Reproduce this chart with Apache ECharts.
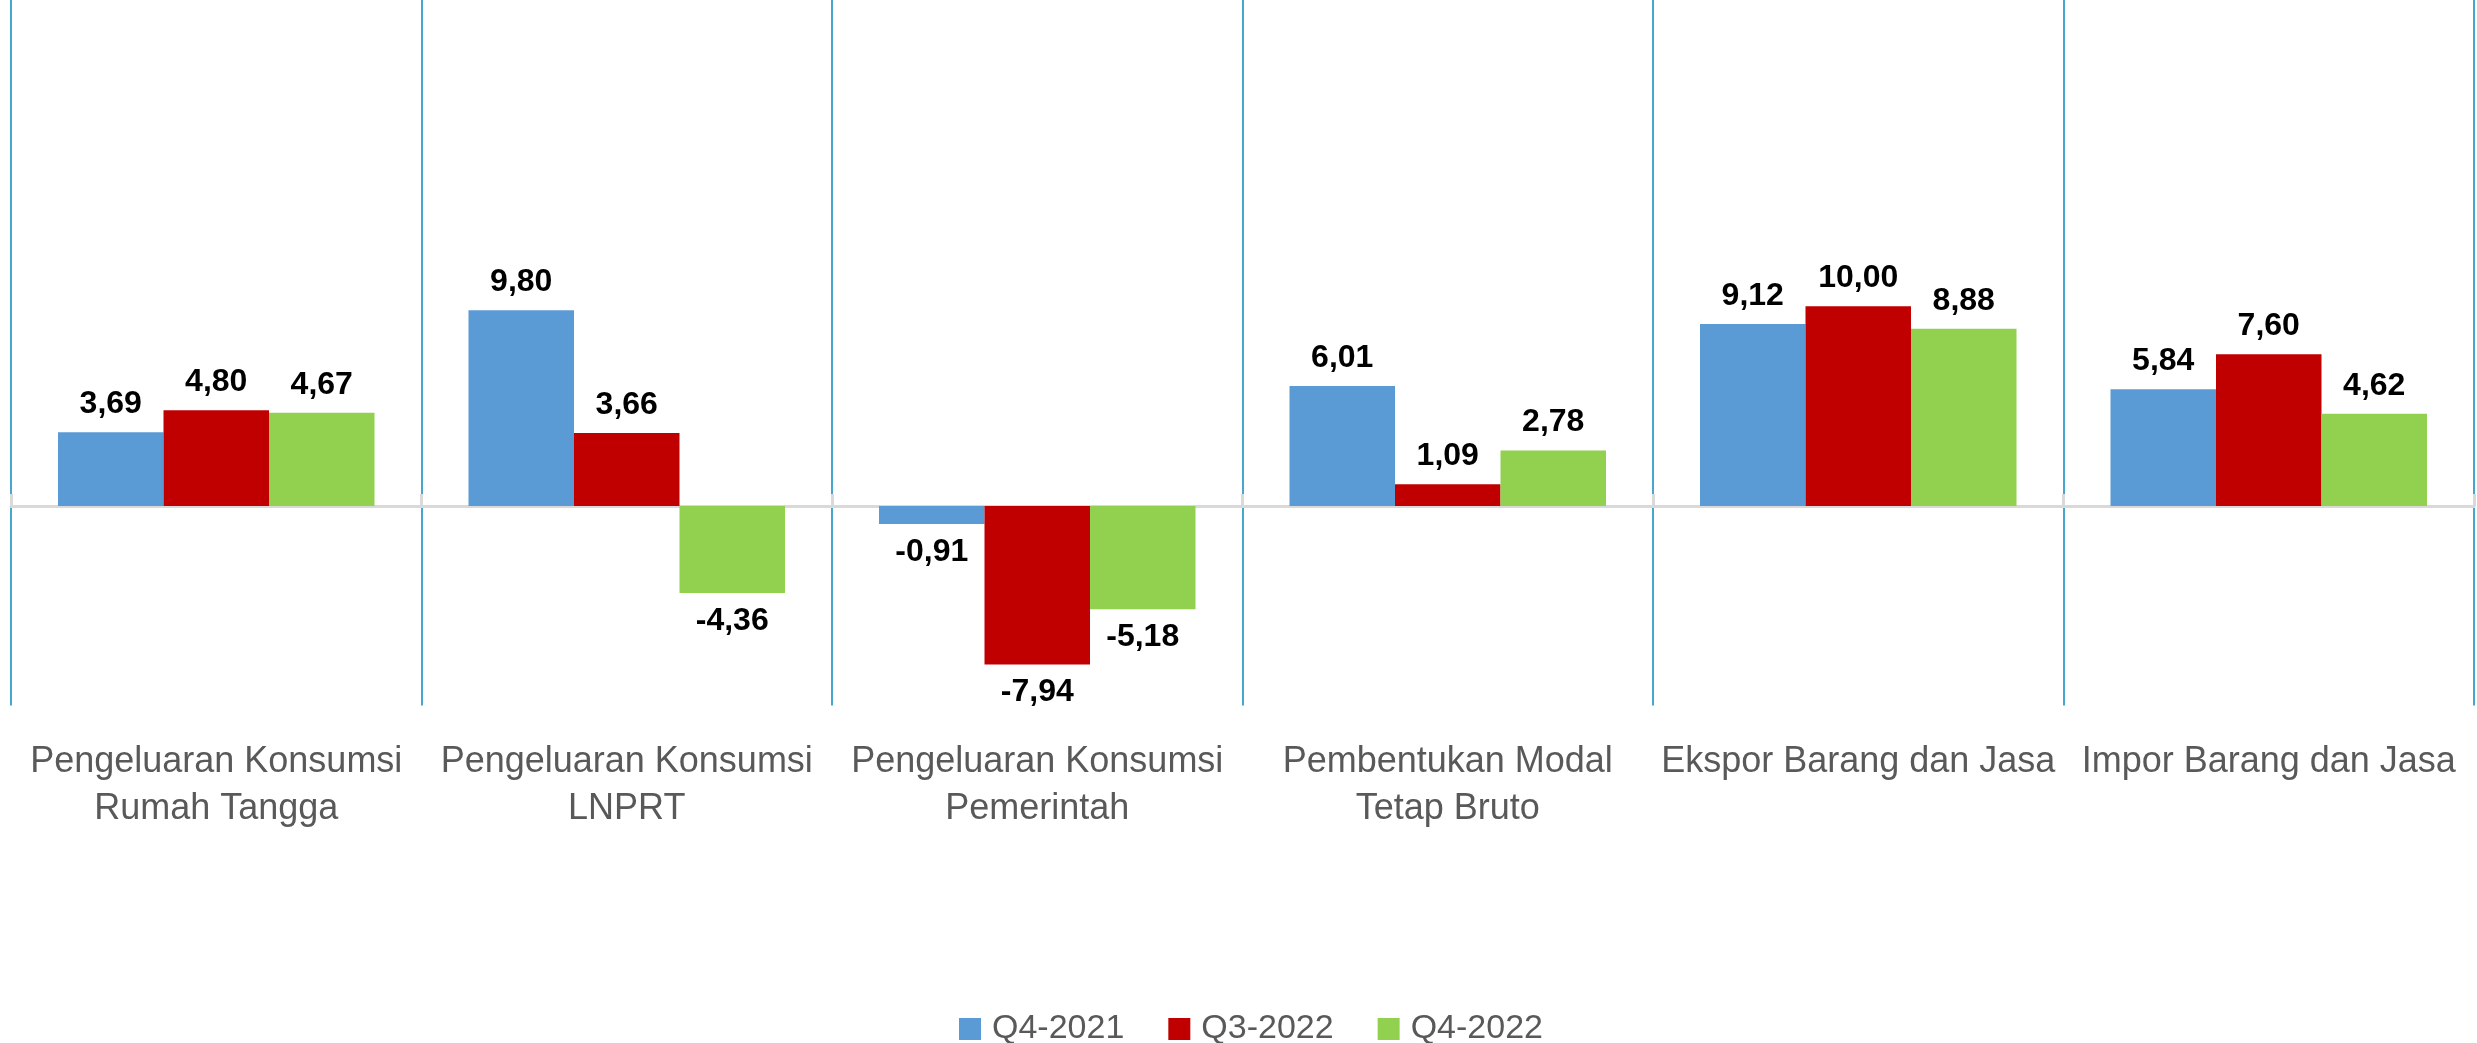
<!DOCTYPE html>
<html>
<head>
<meta charset="utf-8">
<script src="https://cdn.jsdelivr.net/npm/echarts@6/dist/echarts.min.js"></script>
<style>
html,body{margin:0;padding:0;background:#fff;}
#chart{width:2477px;height:1043px;}
</style>
</head>
<body>
<div id="chart"></div>
<script>
const categories = [
  'Pengeluaran Konsumsi\nRumah Tangga',
  'Pengeluaran Konsumsi\nLNPRT',
  'Pengeluaran Konsumsi\nPemerintah',
  'Pembentukan Modal\nTetap Bruto',
  'Ekspor Barang dan Jasa',
  'Impor Barang dan Jasa'
];
const seriesNames = ['Q4-2021', 'Q3-2022', 'Q4-2022'];
const q4_2021 = [3.69, 9.80, -0.91, 6.01, 9.12, 5.84];
const q3_2022 = [4.80, 3.66, -7.94, 1.09, 10.00, 7.60];
const q4_2022 = [4.67, -4.36, -5.18, 2.78, 8.88, 4.62];
const colors = ['#5b9bd5', '#c00000', '#92d050'];

const FONT = "'Liberation Sans', Arial, sans-serif";

function mkData(arr) {
  return arr.map(v => ({
    value: v,
    label: { position: v < 0 ? 'bottom' : 'top' }
  }));
}

function mkSeries(name, arr, color) {
  return {
    name: name,
    type: 'bar',
    xAxisIndex: 0,
    yAxisIndex: 0,
    data: mkData(arr),
    barGap: '0%',
    barCategoryGap: '22.9%',
    itemStyle: { color: color },
    label: {
      show: true,
      distance: 12,
      color: '#000',
      fontFamily: FONT,
      fontWeight: 'bold',
      fontSize: 32,
      formatter: p => p.value.toFixed(2).replace('.', ',')
    }
  };
}

const chart = echarts.init(document.getElementById('chart'), null, { renderer: 'canvas' });
chart.setOption({
  animation: false,
  backgroundColor: '#ffffff',
  grid: { left: 11, right: 3, top: 0, bottom: 337.5, containLabel: false },
  legend: {
    data: seriesNames,
    left: 954,
    top: 1002,
    itemWidth: 22,
    itemHeight: 22,
    itemGap: 44,
    icon: 'rect',
    textStyle: {
      fontFamily: FONT,
      fontSize: 34,
      color: '#595959',
      lineHeight: 44,
      padding: [0, 0, 0, 6]
    }
  },
  xAxis: [
    {
      type: 'category',
      data: categories,
      position: 'bottom',
      axisLine: { show: true, onZero: true, lineStyle: { color: '#d9d9d9', width: 3 } },
      axisTick: { show: true, inside: true, length: 12, lineStyle: { color: '#d9d9d9', width: 3 } },
      axisLabel: { show: false },
      splitLine: { show: false }
    },
    {
      type: 'category',
      data: categories,
      position: 'bottom',
      axisLine: { show: false, onZero: false },
      axisTick: { show: false },
      splitLine: { show: true, lineStyle: { color: '#45a6cf', width: 2 } },
      axisLabel: {
        show: true,
        interval: 0,
        margin: 33,
        color: '#595959',
        fontFamily: FONT,
        fontSize: 36,
        lineHeight: 47,
        align: 'center'
      }
    }
  ],
  yAxis: {
    type: 'value',
    min: -10,
    max: 25.35,
    axisLine: { show: false },
    axisTick: { show: false },
    axisLabel: { show: false },
    splitLine: { show: false }
  },
  series: [
    mkSeries(seriesNames[0], q4_2021, colors[0]),
    mkSeries(seriesNames[1], q3_2022, colors[1]),
    mkSeries(seriesNames[2], q4_2022, colors[2])
  ]
});
</script>
</body>
</html>
